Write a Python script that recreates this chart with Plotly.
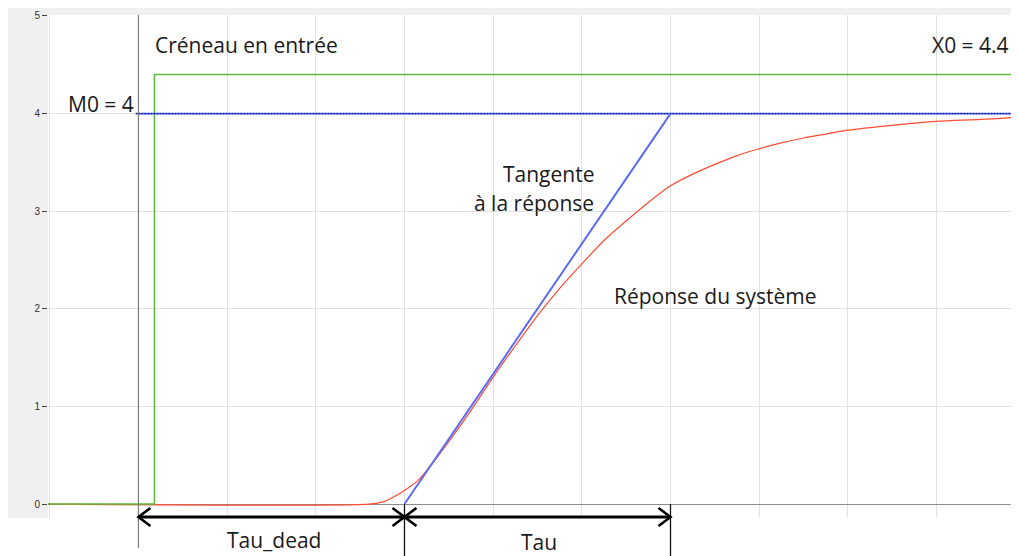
import plotly.graph_objects as go

# ---------------- data ----------------
resp_time = [-10.2, 26.0, 27.5, 28.5, 30, 31.5, 33, 35, 37.5, 40, 42.5, 45, 47.5, 50, 52.5,
             55, 57.5, 60, 62.5, 65, 67.5, 70, 72.5, 75, 77.5, 80, 85, 90, 95, 99.3]
resp_value = [0, 0, 0.02, 0.06, 0.14, 0.24, 0.40, 0.64, 0.96, 1.30, 1.62, 1.93, 2.21, 2.46, 2.70,
              2.90, 3.09, 3.26, 3.38, 3.48, 3.57, 3.64, 3.70, 3.75, 3.79, 3.83, 3.88, 3.92, 3.94, 3.965]

t_start, t_end = -10.2, 99.3
step_time = 1.8
X0 = 4.4
M0 = 4
tau_dead = 30
tau = 30

input_time = [t_start, step_time, step_time, t_end]
input_value = [0, 0, X0, X0]

tangent_time = [tau_dead, tau_dead + tau]
tangent_value = [0, M0]

m0_time = [-0.3, t_end]
m0_value = [M0, M0]

y_ticks = [0, 1, 2, 3, 4, 5]
y_tick_text = ["0", "1", "2", "3", "4", "5"]

# ---------------- figure ----------------
OFF = 8                      # page body margin
W, H = 1019 - OFF, 556 - OFF
L, R, T, B = 40, 0, 7, 38
plot_h = H - T - B
plot_w = W - L - R


def py(page_y):  # page pixel y -> paper y
    return (H - B - (page_y - OFF)) / plot_h


def px(page_x):  # page pixel x -> paper x
    return (page_x - OFF - L) / plot_w


TXT = dict(family="Open Sans, Noto Sans, sans-serif", size=21, color="#1a1a1a")

fig = go.Figure()
fig.add_trace(go.Scatter(x=resp_time, y=resp_value, mode="lines",
                         line=dict(color="#ff4b33", width=1.2, shape="spline", smoothing=0.8),
                         hoverinfo="skip"))
fig.add_trace(go.Scatter(x=input_time, y=input_value, mode="lines",
                         line=dict(color="#5cbb3c", width=1.5), hoverinfo="skip"))
fig.add_trace(go.Scatter(x=m0_time, y=m0_value, mode="lines",
                         line=dict(color="#3f5cff", width=1.8), hoverinfo="skip"))
fig.add_trace(go.Scatter(x=m0_time, y=m0_value, mode="lines",
                         line=dict(color="#000033", width=1.1, dash="1px,2px"), hoverinfo="skip"))
fig.add_trace(go.Scatter(x=tangent_time, y=tangent_value, mode="lines",
                         line=dict(color="#5b6cf2", width=2), hoverinfo="skip"))

shapes = []
# white band below the plot (paper is gray elsewhere)
shapes.append(dict(type="rect", xref="paper", yref="paper", x0=px(0), x1=px(1030), y0=py(560), y1=0,
                   fillcolor="white", line=dict(width=0), layer="below"))
# t = 0 axis line
shapes.append(dict(type="line", xref="x", yref="paper", x0=0, x1=0, y0=py(548), y1=1,
                   line=dict(color="#7a7a7a", width=1.2)))
# delimiters below the plot
for t in (tau_dead, tau_dead + tau):
    shapes.append(dict(type="line", xref="x", yref="paper", x0=t, x1=t, y0=py(556), y1=py(504),
                       line=dict(color="#111111", width=1.3)))
# horizontal double arrows
ya = py(517)
dx = 12 / (plot_w / (t_end - t_start))
dy = 9 / plot_h
for a, b in ((0, tau_dead), (tau_dead, tau_dead + tau)):
    shapes.append(dict(type="line", xref="x", yref="paper", x0=a, x1=b, y0=ya, y1=ya,
                       line=dict(color="#000000", width=3)))
    shapes.append(dict(type="path", xref="x", yref="paper",
                       path=f"M {a+dx},{ya+dy} L {a},{ya} L {a+dx},{ya-dy}",
                       line=dict(color="#000000", width=2.6)))
    shapes.append(dict(type="path", xref="x", yref="paper",
                       path=f"M {b-dx},{ya+dy} L {b},{ya} L {b-dx},{ya-dy}",
                       line=dict(color="#000000", width=2.6)))

annotations = [
    dict(text="Créneau en entrée", x=1.6, y=4.70, xref="x", yref="y", xanchor="left", yanchor="middle",
         showarrow=False, font=TXT),
    dict(text="X0 = 4.4", x=98.4, y=4.70, xref="x", yref="y", xanchor="right", yanchor="middle",
         showarrow=False, font=TXT),
    dict(text="M0 = 4", x=-0.3, y=4.10, xref="x", yref="y", xanchor="right", yanchor="middle",
         showarrow=False, font=TXT),
    dict(text="Tangente", x=51.6, y=3.38, xref="x", yref="y", xanchor="right", yanchor="middle",
         showarrow=False, font=TXT),
    dict(text="à la réponse", x=51.6, y=3.08, xref="x", yref="y", xanchor="right", yanchor="middle",
         showarrow=False, font=TXT),
    dict(text="Réponse du système", x=53.4, y=2.13, xref="x", yref="y", xanchor="left", yanchor="middle",
         showarrow=False, font=TXT),
    dict(text="Tau_dead", x=15.3, y=py(540), xref="x", yref="paper", xanchor="center",
         yanchor="middle", showarrow=False, font=TXT),
    dict(text="Tau", x=45.2, y=py(542), xref="x", yref="paper", xanchor="center",
         yanchor="middle", showarrow=False, font=TXT),
]

fig.update_layout(
    width=W, height=H,
    margin=dict(l=L, r=R, t=T, b=B, pad=0),
    paper_bgcolor="#f0f0f0", plot_bgcolor="white",
    showlegend=False,
    shapes=shapes, annotations=annotations,
    xaxis=dict(range=[t_start, t_end], showticklabels=False, ticks="", showgrid=True,
               tick0=0, dtick=10, gridcolor="#e2e2e2", gridwidth=1, zeroline=False, showline=False,
               fixedrange=True),
    yaxis=dict(range=[-0.143, 5.01], tickmode="array", tickvals=y_ticks, ticktext=y_tick_text,
               ticks="outside", ticklen=5, tickwidth=1, tickcolor="#444444",
               tickfont=dict(family="Liberation Sans, Arial, sans-serif", size=10, color="#333333"),
               showgrid=True, gridcolor="#e2e2e2", gridwidth=1,
               zeroline=True, zerolinecolor="#8c8c8c", zerolinewidth=1, showline=False,
               fixedrange=True),
)

fig.write_html("out.html")
